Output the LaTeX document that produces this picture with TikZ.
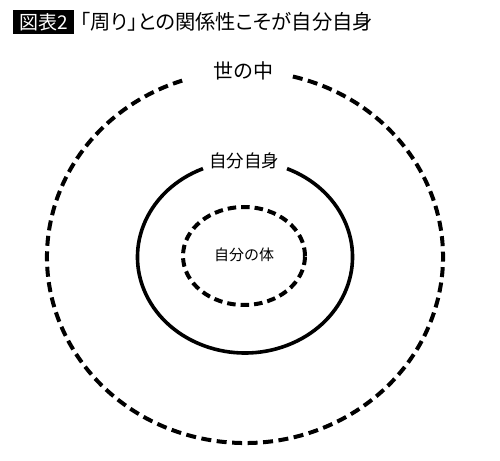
\documentclass[tikz,border=0pt]{standalone}
\usepackage{fontspec}
\setmainfont{Noto Sans CJK JP}
\newfontfamily\titlefont[RawFeature=+palt]{Noto Sans CJK JP}
\usetikzlibrary{positioning}

\tikzset{
  ring/.style={line width=4pt, dash pattern=on 10pt off 5.5pt},
  innerring/.style={line width=4pt, dash pattern=on 8.5pt off 5pt},
  selfring/.style={line width=3.6pt},
}

\begin{document}
\begin{tikzpicture}[x=1pt, y=1pt]
	\useasboundingbox (0,0) rectangle (500,460);
	% title
	\node[fill=black, text=white, inner sep=0pt, minimum width=61pt, minimum height=24pt, font=\titlefont\fontsize{19}{19}\selectfont] (fig) at (43.5,438) {図表2};
	\node[right=6pt of fig, inner sep=0pt, font=\titlefont\fontsize{20.3}{20.3}\selectfont] (title) {「周り」との関係性こそが自分自身};
	% rings
	\coordinate (c) at (245,203);
	\draw [ring] ([shift={(76:198 and 186)}]c) arc[start angle=76, end angle=-251.5, x radius=198, y radius=186];
	\draw [selfring] ([shift={(113:107.5 and 96)}]c) arc[start angle=113, end angle=427, x radius=107.5, y radius=96];
	\draw [innerring] (244,204) ellipse[x radius=61, y radius=49];
	% labels
	\node[font=\fontsize{20}{20}\selectfont] (world) at (243,389) {世の中};
	\node[font=\fontsize{17.5}{17.5}\selectfont] (self) at (244,299) {自分自身};
	\node[font=\fontsize{15}{15}\selectfont] (body) at (244,205) {自分の体};
\end{tikzpicture}
\end{document}
